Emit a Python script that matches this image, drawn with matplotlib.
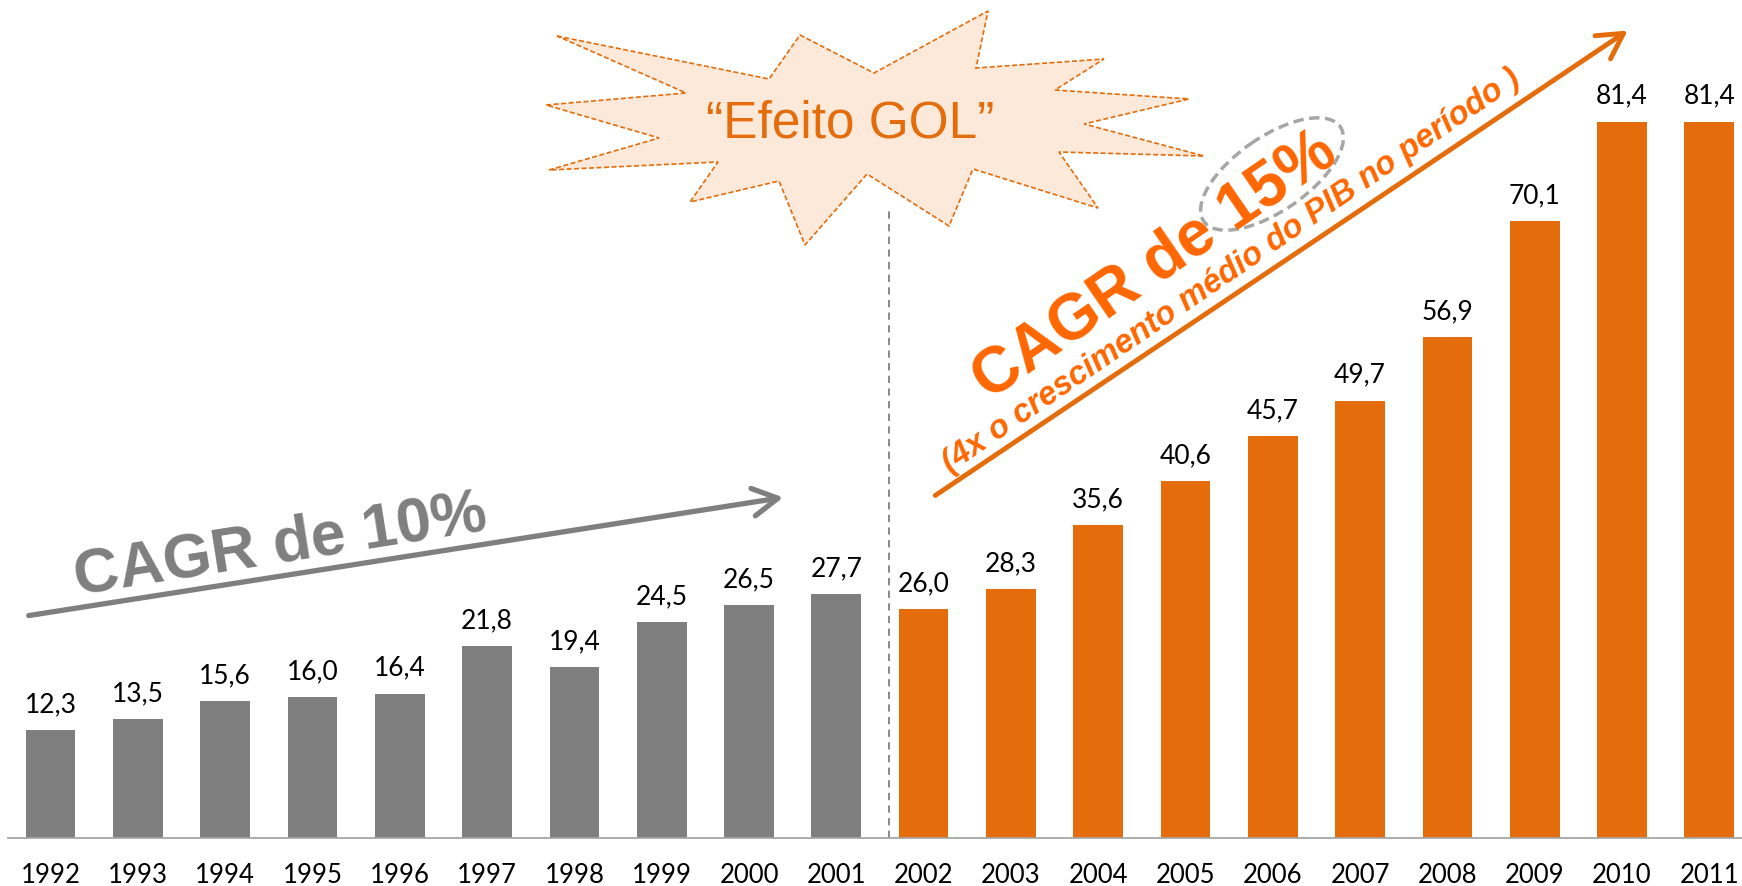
import matplotlib.pyplot as plt
from matplotlib.patches import Polygon, Ellipse, FancyArrowPatch

# Dados do grafico
anos = [str(a) for a in range(1992, 2012)]
valores = [12.3, 13.5, 15.6, 16.0, 16.4, 21.8, 19.4, 24.5, 26.5, 27.7,
           26.0, 28.3, 35.6, 40.6, 45.7, 49.7, 56.9, 70.1, 81.4, 81.4]
n_antes = 10  # 1992-2001 em cinza, 2002-2011 em laranja

CINZA = '#7F7F7F'
LARANJA = '#E46C0A'
LARANJA_TXT = '#FF6600'

W, H = 1742, 887
fig = plt.figure(figsize=(W / 100, H / 100), dpi=100)
fig.patch.set_facecolor('white')

# Eixo principal: linha de base a 839 px do topo, 87.3 px entre barras
base_px = 839
px_unit = 8.8
passo = 87.3
x0 = 50.6
ax = fig.add_axes([0, (H - base_px) / H, 1, base_px / H])
ax.set_xlim(-x0 / passo, -x0 / passo + W / passo)
ax.set_ylim(0, base_px / px_unit)

x = list(range(len(anos)))
cores = [CINZA] * n_antes + [LARANJA] * (len(anos) - n_antes)
ax.bar(x, valores, width=0.57, color=cores, zorder=2)

for i, v in zip(x, valores):
    ax.annotate(f'{v:.1f}'.replace('.', ','), (i, v), xytext=(0, 10),
                textcoords='offset points', ha='center', va='bottom',
                fontsize=19, family='Lato', color='black')

ax.set_xticks(x)
ax.set_xticklabels(anos, fontsize=18.5, family='Lato')
ax.tick_params(axis='x', length=0, pad=17)
ax.set_yticks([])
for s in ['top', 'right', 'left']:
    ax.spines[s].set_visible(False)
ax.spines['bottom'].set_color('#A6A6A6')
ax.spines['bottom'].set_linewidth(1.3)
ax.spines['bottom'].set_bounds(-x0 / passo + 8 / passo, 30)
ax.patch.set_alpha(0)

# linha tracejada separando os periodos
ax.plot([9.6, 9.6], [0, (base_px - 208) / px_unit], ls=(0, (4, 3)),
        color=CINZA, lw=1.3, zorder=1)

# Camada de anotacoes em pixels (y para baixo)
ov = fig.add_axes([0, 0, 1, 1])
ov.set_xlim(0, W)
ov.set_ylim(H, 0)
ov.axis('off')
ov.patch.set_alpha(0)

# explosao "Efeito GOL"
estrela = [(557, 37), (769, 80), (800, 36), (874, 74), (988, 12), (976, 69),
           (1104, 60), (1055, 91), (1189, 100), (1084, 125), (1204, 157),
           (1059, 153), (1098, 209), (973, 170), (949, 227), (867, 175),
           (805, 246), (779, 182), (690, 203), (718, 163), (549, 171),
           (659, 139), (546, 106), (686, 94)]
ov.add_patch(Polygon(estrela, closed=True, facecolor='#FDE9D9',
                     edgecolor=LARANJA, lw=1.2, ls=(0, (3, 1.5))))
ov.text(850, 124, '\u201cEfeito GOL\u201d', ha='center', va='center',
        fontsize=37, family='Liberation Sans', color=LARANJA)

# seta cinza - CAGR 10%
ov.add_patch(FancyArrowPatch((26, 617), (786, 498),
                             arrowstyle='->,head_length=0.9,head_width=0.5',
                             mutation_scale=20, lw=3.8, color=CINZA,
                             capstyle='round', joinstyle='round'))
ov.text(280, 546, 'CAGR de 10%', rotation=9, rotation_mode='anchor',
        ha='center', va='center', fontsize=45, fontweight='bold',
        family='Liberation Sans', color=CINZA)

# seta laranja - CAGR 15%
ov.add_patch(FancyArrowPatch((933, 498), (1630, 30),
                             arrowstyle='->,head_length=0.9,head_width=0.5',
                             mutation_scale=20, lw=3.5, color=LARANJA,
                             capstyle='round', joinstyle='round'))
ov.text(1155, 266, 'CAGR de 15%', rotation=34.5, rotation_mode='anchor',
        ha='center', va='center', fontsize=46, fontweight='bold',
        family='Liberation Sans', color=LARANJA_TXT)
ov.add_patch(Ellipse((1272, 175), 166, 74, angle=-34.7, fill=False,
                     edgecolor='#A6A6A6', lw=2.5, ls=(0, (3, 1.6))))
ov.text(1231, 271, '(4x o crescimento m\u00e9dio do PIB no per\u00edodo )',
        rotation=34.3, rotation_mode='anchor', ha='center', va='center',
        fontsize=23.5, fontweight='bold', fontstyle='italic',
        family='Liberation Sans', color=LARANJA_TXT)

fig.savefig('out.png', dpi=100)
